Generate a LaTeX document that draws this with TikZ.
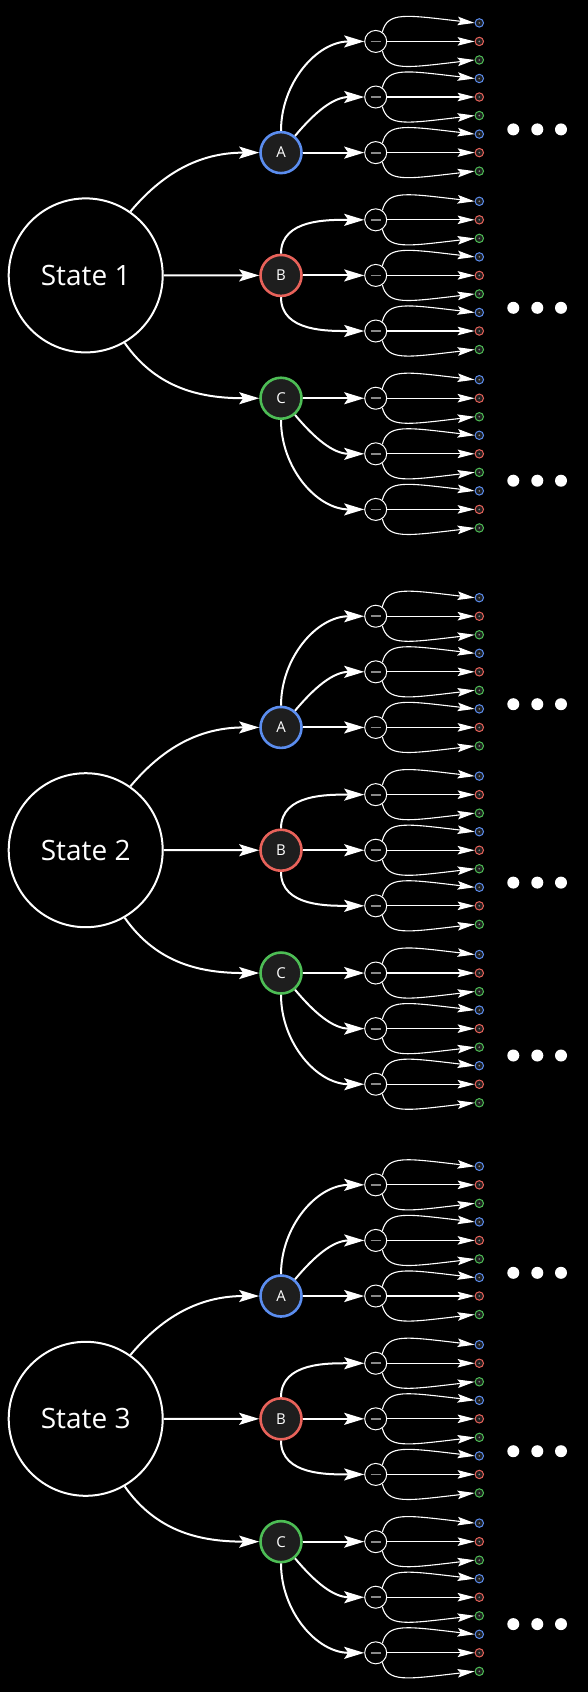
\documentclass[tikz,border=0pt]{standalone}
\usepackage{fontspec}
\setmainfont{Open Sans}
\usetikzlibrary{arrows.meta,calc}
\definecolor{cblue}{HTML}{5B8DEF}
\definecolor{cred}{HTML}{E8625A}
\definecolor{cgreen}{HTML}{4DBD55}
\definecolor{nodefill}{HTML}{1E1E1E}
\definecolor{dashgray}{HTML}{8A8A8A}
\begin{document}
\begin{tikzpicture}[x=1pt,y=1pt,
  statenode/.style={circle, draw=white, line width=2pt, fill=black, minimum size=154pt, inner sep=0pt, text=white, font=\fontsize{28}{28}\selectfont},
  groupnode/.style={circle, draw=#1, line width=2.6pt, fill=nodefill, minimum size=41pt, inner sep=0pt, text=white, font=\fontsize{15}{15}\selectfont},
  minusnode/.style={circle, draw=white, line width=1pt, fill=black, minimum size=22pt, inner sep=0pt,
    path picture={\draw[dashgray, line width=1.8pt] ([xshift=-5pt]path picture bounding box.center) -- ([xshift=5pt]path picture bounding box.center);}},
  leafnode/.style={circle, draw=#1, line width=1pt, fill=nodefill, minimum size=8.4pt, inner sep=0pt,
    path picture={\fill[dashgray] (path picture bounding box.center) circle (0.9pt);}},
  dotnode/.style={circle, fill=white, minimum size=12pt, inner sep=0pt},
  bigedge/.style={draw=white, line width=2pt, -{Stealth[length=20pt, width=12pt, inset=4pt]}},
  smalledge/.style={draw=white, line width=1.1pt, -{Stealth[length=17pt, width=8.5pt, inset=3pt]}},
]
\fill[black] (0,0) rectangle (588,-1692);
\useasboundingbox (0,0) rectangle (588,-1692);
\foreach \s/\yz in {1/22.9, 2/597.7, 3/1166.3} {
  \pgfmathsetmacro\ys{-(\yz+252.5)}
  \node[statenode] (s\s) at (85.7,\ys) {State \s};
  \foreach \k/\lab/\col/\gpos in {0/A/cblue/2,1/B/cred/1,2/C/cgreen/0} {
    \pgfmathsetmacro\yg{-(\yz+178.4*\k+18.53+55.59*\gpos)}
    \node[groupnode=\col] (s\s-g\k) at (281,\yg) {\lab};
    \foreach \j in {0,1,2} {
      \pgfmathsetmacro\ym{-(\yz+178.4*\k+18.53+55.59*\j)}
      \node[minusnode] (s\s-g\k-m\j) at (375.7,\ym) {};
      \pgfmathtruncatemacro\d{\j-\gpos+2-(\k==1)*(\j==0)+(\k==1)*(\j==2)}
      \ifcase\d\relax
        \draw[bigedge] (s\s-g\k.north) to[out=90,in=180] (s\s-g\k-m\j.west);
      \or
        \draw[bigedge] (s\s-g\k.50) to[out=50,in=180] (s\s-g\k-m\j.west);
      \or
        \draw[bigedge] (s\s-g\k.east) -- (s\s-g\k-m\j.west);
      \or
        \draw[bigedge] (s\s-g\k.-50) to[out=-50,in=180] (s\s-g\k-m\j.west);
      \or
        \draw[bigedge] (s\s-g\k.south) to[out=-90,in=180] (s\s-g\k-m\j.west);
      \fi
      \foreach \i/\lc in {0/cblue,1/cred,2/cgreen} {
        \pgfmathsetmacro\yl{\ym-18.53*(\i-1)}
        \node[leafnode=\lc] (s\s-g\k-m\j-l\i) at (479.3,\yl) {};
      }
      \draw[smalledge] (s\s-g\k-m\j.55) .. controls ($(s\s-g\k-m\j)+(12,30)$) and ($(s\s-g\k-m\j-l0)+(-74,8)$) .. (s\s-g\k-m\j-l0.west);
      \draw[smalledge] (s\s-g\k-m\j.east) -- (s\s-g\k-m\j-l1.west);
      \draw[smalledge] (s\s-g\k-m\j.-55) .. controls ($(s\s-g\k-m\j)+(12,-30)$) and ($(s\s-g\k-m\j-l2)+(-74,-8)$) .. (s\s-g\k-m\j-l2.west);
    }
  }
  \draw[bigedge] (s\s.55) to[out=50,in=180] (s\s-g0.west);
  \draw[bigedge] (s\s.east) -- (s\s-g1.west);
  \draw[bigedge] (s\s.-60) to[out=-55,in=180] (s\s-g2.west);
  \foreach \k/\dy in {0/106.5,1/284.9,2/457.8} {
    \pgfmathsetmacro\yd{-(\yz+\dy)}
    \foreach \n/\xd in {0/513.3,1/537.3,2/561} {
      \node[dotnode] (s\s-d\k-\n) at (\xd,\yd) {};
    }
  }
}
\end{tikzpicture}
\end{document}
